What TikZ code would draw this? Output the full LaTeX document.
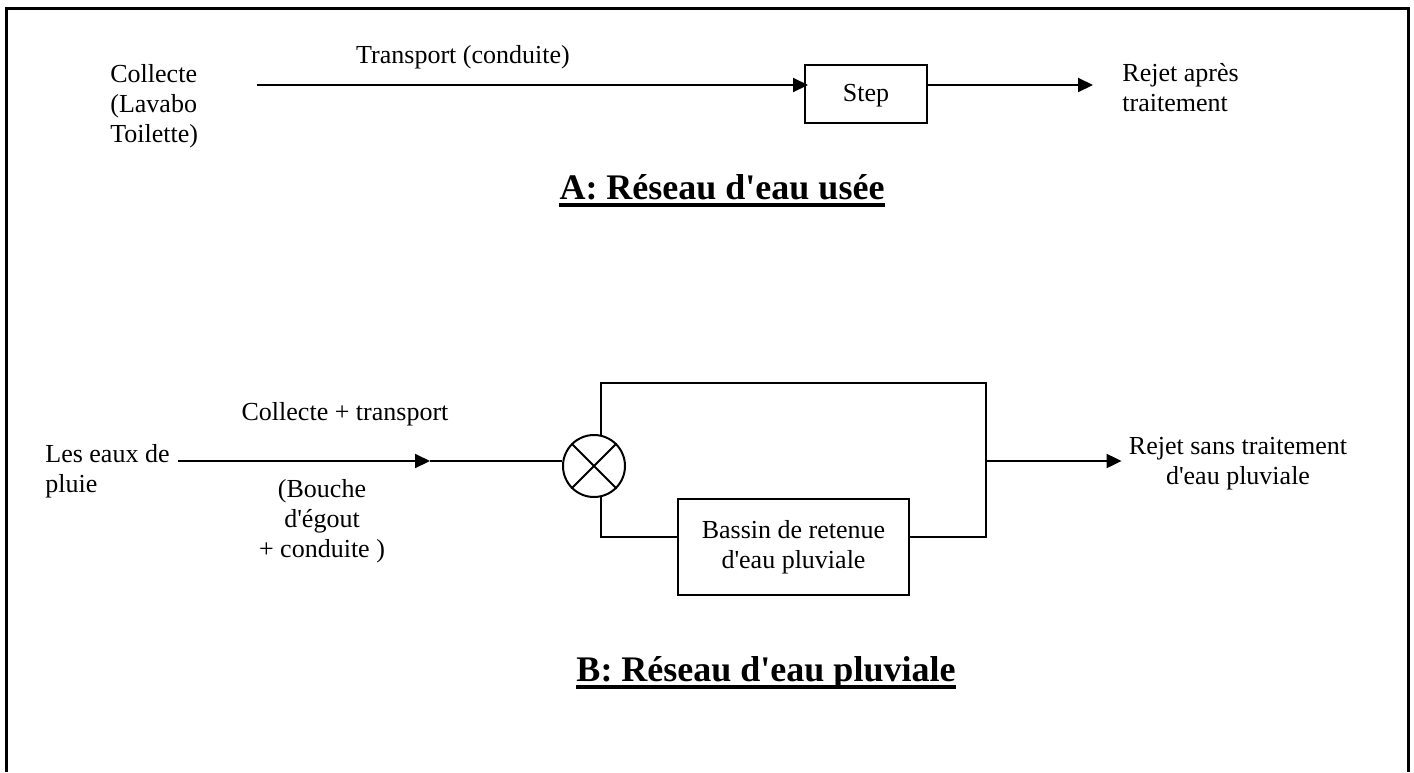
\documentclass[tikz,border=0pt]{standalone}
\usepackage{fontspec}
\setmainfont{Liberation Serif}
\usetikzlibrary{arrows.meta,positioning}
\newcommand{\apos}{\textquotesingle}

\tikzset{
  boite/.style={draw,line width=1pt,inner sep=0pt},
  texte/.style={inner sep=0pt,font=\fontsize{13}{15}\selectfont},
  titre/.style={inner sep=0pt,font=\fontsize{18}{21}\selectfont\bfseries},
  souligne/.style={line width=2.2pt},
  fleche/.style={line width=1pt,-{Triangle[length=7.5pt,width=7pt]}},
  trait/.style={line width=1pt}
}

\begin{document}
\begin{tikzpicture}[x=0.5pt,y=-0.5pt]
\useasboundingbox (0,0) rectangle (1414,772);
\draw[line width=1.5pt] (6,772) -- (6,8) -- (1408,8) -- (1408,772);

\node [texte,align=left,anchor=west] (collecte) at (110,106) {Collecte\\(Lavabo\\Toilette)};
\node [texte] (transport) at (463,57) {Transport (conduite)};
\node [boite,texte,minimum width=61pt,minimum height=29pt,text depth=1pt] (step) at (866,94) {Step};
\coordinate (debutA) at (257,85);
\coordinate (finA) at (1093,85);
\draw[fleche] (debutA) -- ([xshift=2pt]debutA -| step.west);
\draw[fleche] (finA -| step.east) -- (finA);
\node [texte,align=left,anchor=west] (rejetA) at (1122,88) {Rejet après\\traitement};
\node [titre,anchor=base] (titreA) at (722,199) {A: Réseau d\apos eau usée};
\draw[souligne] ([yshift=-3pt]titreA.base west) -- ([yshift=-3pt]titreA.base east);

\node [texte,align=left,anchor=west] (pluie) at (45,471) {Les eaux de\\pluie};
\node [texte,anchor=base] (collecteB) at (345,420) {Collecte + transport};
\node [texte,align=center] (bouche) at (322,521) {(Bouche\\d\apos égout\\+ conduite )};
\node [draw,circle,line width=1pt,minimum size=31pt,inner sep=0pt] (vanne) at (594,466) {};
\draw[trait] (vanne.north west) -- (vanne.south east) (vanne.north east) -- (vanne.south west);
\coordinate (debutB) at (178,461);
\coordinate (milieuB) at (430,461);
\draw[fleche] (debutB) -- (milieuB);
\draw[trait] (milieuB) -- (milieuB -| vanne.west);
\node [boite,texte,align=center,minimum width=115.5pt,minimum height=48pt] (bassin) at (793.5,547) {Bassin de retenue\\d\apos eau pluviale};
\coordinate (hautD) at (986,383);
\coordinate (basD) at (986,537);
\draw[trait] (vanne.77) |- (hautD) -- (basD) -- (bassin.east |- basD);
\draw[trait] (vanne.-77) |- (bassin.west |- basD);
\coordinate (sortie) at (986,461);
\node [texte,align=center] (rejetB) at (1238,464) {Rejet sans traitement\\d\apos eau pluviale};
\draw[fleche] (sortie) -- ([xshift=-3.5pt]sortie -| rejetB.west);
\node [titre,anchor=base] (titreB) at (766,681) {B: Réseau d\apos eau pluviale};
\draw[souligne] ([yshift=-3pt]titreB.base west) -- ([yshift=-3pt]titreB.base east);
\end{tikzpicture}
\end{document}
